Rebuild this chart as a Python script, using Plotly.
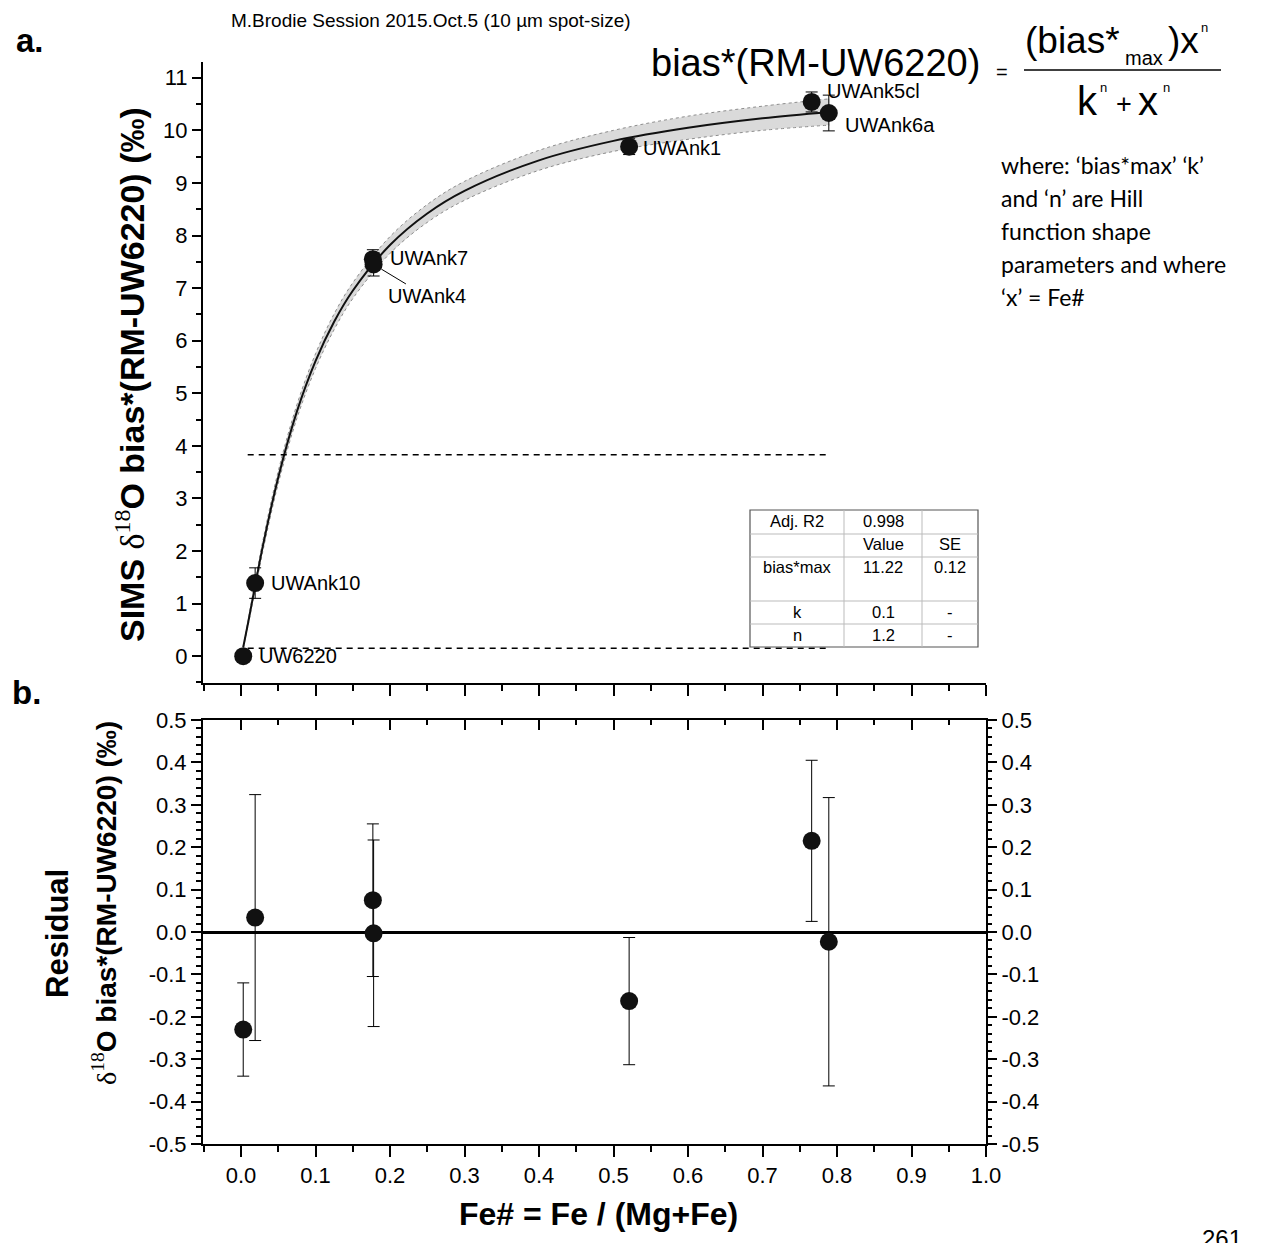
import plotly.graph_objects as go

# ---------------- data ----------------
names = ["UW6220", "UWAnk10", "UWAnk7", "UWAnk4", "UWAnk1", "UWAnk5cl", "UWAnk6a"]
fe_num = [0.003, 0.019, 0.177, 0.178, 0.521, 0.766, 0.789]
bias = [0.0, 1.39, 7.55, 7.45, 9.69, 10.54, 10.33]
bias_err = [0.11, 0.29, 0.18, 0.22, 0.15, 0.19, 0.34]
residual = [-0.23, 0.034, 0.075, -0.003, -0.163, 0.215, -0.023]
resid_err = [0.11, 0.29, 0.18, 0.22, 0.15, 0.19, 0.34]

curve_x = [0.003, 0.01, 0.02, 0.03, 0.05, 0.075, 0.1, 0.125, 0.15, 0.2, 0.25, 0.3, 0.4, 0.5, 0.6, 0.7, 0.79]
curve_y = [0.17, 0.67, 1.42, 2.14, 3.40, 4.65, 5.61, 6.36, 6.95, 7.82, 8.42, 8.85, 9.43, 9.80, 10.05, 10.23, 10.35]
band_upper = [0.19, 0.72, 1.50, 2.24, 3.52, 4.78, 5.75, 6.51, 7.10, 7.98, 8.59, 9.03, 9.62, 10.00, 10.27, 10.46, 10.60]
band_lower = [0.15, 0.62, 1.34, 2.04, 3.28, 4.52, 5.47, 6.21, 6.80, 7.66, 8.25, 8.67, 9.24, 9.60, 9.83, 10.00, 10.10]

hline_y = [3.83, 0.15]
hline_x = [0.009, 0.79]

x_ticks = [0.0, 0.1, 0.2, 0.3, 0.4, 0.5, 0.6, 0.7, 0.8, 0.9, 1.0]
x_ticklabels = ["0.0", "0.1", "0.2", "0.3", "0.4", "0.5", "0.6", "0.7", "0.8", "0.9", "1.0"]
top_y_ticks = [0, 1, 2, 3, 4, 5, 6, 7, 8, 9, 10, 11]
res_ticks = [-0.5, -0.4, -0.3, -0.2, -0.1, 0.0, 0.1, 0.2, 0.3, 0.4, 0.5]
res_ticklabels = ["-0.5", "-0.4", "-0.3", "-0.2", "-0.1", "0.0", "0.1", "0.2", "0.3", "0.4", "0.5"]

table_rows = [
    ["Adj. R2", "0.998", ""],
    ["", "Value", "SE"],
    ["bias*max", "11.22", "0.12"],
    ["k", "0.1", "-"],
    ["n", "1.2", "-"],
]

# ---------------- layout helpers ----------------
W, H = 1265, 1243
def px(x):
    return x / W
def py(y):
    return 1 - y / H

AR = "Arial, Liberation Sans, sans-serif"
fig = go.Figure()

# confidence band
fig.add_trace(go.Scatter(x=curve_x, y=band_lower, mode="lines", line=dict(color="#8c8c8c", width=1, dash="dot", shape="spline"),
                         xaxis="x", yaxis="y", showlegend=False, hoverinfo="skip"))
fig.add_trace(go.Scatter(x=curve_x, y=band_upper, mode="lines", line=dict(color="#8c8c8c", width=1, dash="dot", shape="spline"),
                         fill="tonexty", fillcolor="#dadada", xaxis="x", yaxis="y", showlegend=False, hoverinfo="skip"))
# fit curve
fig.add_trace(go.Scatter(x=curve_x, y=curve_y, mode="lines", line=dict(color="#111", width=2, shape="spline"),
                         xaxis="x", yaxis="y", showlegend=False))
# dashed horizontal lines
for hy in hline_y:
    fig.add_trace(go.Scatter(x=hline_x, y=[hy, hy], mode="lines", line=dict(color="black", width=1.6, dash="6px,5px"),
                             xaxis="x", yaxis="y", showlegend=False))
# data points
fig.add_trace(go.Scatter(x=fe_num, y=bias, mode="markers",
                         marker=dict(size=18, color="#111"),
                         error_y=dict(type="data", array=bias_err, color="black", thickness=1, width=6),
                         xaxis="x", yaxis="y", showlegend=False))
# residuals
fig.add_trace(go.Scatter(x=fe_num, y=residual, mode="markers",
                         marker=dict(size=18, color="#111"),
                         error_y=dict(type="data", array=resid_err, color="black", thickness=1, width=6),
                         xaxis="x2", yaxis="y2", showlegend=False))

# point labels
LBL = 20
label_shift = {"UW6220": (14, 0), "UWAnk10": (14, 0), "UWAnk7": (15, 1), "UWAnk1": (12, -1),
               "UWAnk5cl": (13, 11), "UWAnk6a": (14, -12)}
annotations = []
for n, xv, yv in zip(names, fe_num, bias):
    if n == "UWAnk4":
        annotations.append(dict(x=xv, y=yv, xref="x", yref="y", text=n, showarrow=True, arrowhead=0,
                                arrowwidth=1, arrowcolor="black", ax=53, ay=32, standoff=9,
                                xanchor="center", yanchor="middle",
                                font=dict(family=AR, size=LBL, color="black")))
        continue
    dx, dy = label_shift[n]
    annotations.append(dict(x=xv, y=yv, xref="x", yref="y", text=n, showarrow=False, xanchor="left",
                            yanchor="middle", xshift=dx, yshift=dy, font=dict(family=AR, size=LBL, color="black")))


def note(x, y, text, size, family=AR, angle=0, xanchor="center"):
    return dict(x=px(x), y=py(y), xref="paper", yref="paper", text=text, showarrow=False,
                xanchor=xanchor, yanchor="middle", textangle=angle,
                font=dict(family=family, size=size, color="black"))

SERIF_D = "<span style='font-family:Liberation Serif'>δ<sup>18</sup></span>"
annotations += [
    note(431, 20, "M.Brodie Session 2015.Oct.5 (10 µm spot-size)", 19),
    note(30, 40, "<b>a.</b>", 33),
    note(26, 692, "<b>b.</b>", 33),
    note(130, 375, "<b>SIMS </b>" + SERIF_D + "<b>O bias*(RM-UW6220) (‰)</b>", 34, angle=-90),
    note(58, 934, "<b>Residual</b>", 31, angle=-90),
    note(104, 903, SERIF_D + "<b>O bias*(RM-UW6220) (‰)</b>", 28, angle=-90),
    note(598, 1214, "<b>Fe# = Fe / (Mg+Fe)</b>", 32),
    # equation
    note(815, 63, "bias*(RM-UW6220)", 38),
    note(1002, 72, "=", 20),
    # numerator
    note(1122, 40, "(bias*", 37, xanchor="right"),
    note(1123, 58, "max", 20, xanchor="left"),
    note(1166, 40, ")x", 37, xanchor="left"),
    note(1199, 27, "n", 13, xanchor="left"),
    # denominator
    note(1087, 101, "k", 40),
    note(1098, 87, "n", 13, xanchor="left"),
    note(1124, 104, "+", 27),
    note(1148, 101, "x", 40),
    note(1161, 87, "n", 13, xanchor="left"),
    note(1222, 1238, "261", 24),
]
where_lines = ["where: ‘bias*max’ ‘k’", "and ‘n’ are Hill", "function shape", "parameters and where", "‘x’ = Fe#"]
for i, t in enumerate(where_lines):
    annotations.append(note(999, 165 + 33 * i, t, 23, family="Lato, Open Sans, sans-serif", xanchor="left"))

# table
tx = [750, 844, 922, 978]
ty = [510, 534, 557, 601, 624, 647]
shapes = [dict(type="rect", xref="paper", yref="paper", x0=px(tx[0]), x1=px(tx[-1]), y0=py(ty[-1]), y1=py(ty[0]),
               fillcolor="white", line=dict(color="#555", width=1.2), layer="above")]
for xx in tx[1:-1]:
    shapes.append(dict(type="line", xref="paper", yref="paper", x0=px(xx), x1=px(xx), y0=py(ty[-1]), y1=py(ty[0]),
                       line=dict(color="#bbb", width=1), layer="above"))
for yy in ty[1:-1]:
    shapes.append(dict(type="line", xref="paper", yref="paper", x0=px(tx[0]), x1=px(tx[-1]), y0=py(yy), y1=py(yy),
                       line=dict(color="#bbb", width=1), layer="above"))
row_text_y = [521, 544, 567, 612, 635]
col_cx = [(tx[0] + tx[1]) / 2, (tx[1] + tx[2]) / 2, (tx[2] + tx[3]) / 2]
for r, row in enumerate(table_rows):
    for c, cell in enumerate(row):
        if cell:
            annotations.append(note(col_cx[c], row_text_y[r], cell, 16.5))

# fraction bar
shapes.append(dict(type="line", xref="paper", yref="paper", x0=px(1024), x1=px(1221), y0=py(70), y1=py(70),
                   line=dict(color="black", width=1.5)))

xdom = [px(203), px(986)]
xrange_ = [-0.051, 1.0]
tickfont = dict(family=AR, size=22, color="black")

fig.update_layout(
    width=W, height=H, margin=dict(l=0, r=0, t=0, b=0, autoexpand=False),
    paper_bgcolor="white", plot_bgcolor="rgba(0,0,0,0)",
    showlegend=False,
    xaxis=dict(domain=xdom, range=xrange_, anchor="y", showgrid=False, zeroline=False,
               showline=True, linecolor="black", linewidth=2,
               ticks="outside", tickvals=x_ticks, ticklen=11, tickwidth=2, tickcolor="black",
               showticklabels=False,
               minor=dict(ticks="outside", dtick=0.05, tick0=0, ticklen=6, tickwidth=2, tickcolor="black")),
    yaxis=dict(domain=[py(683), py(62)], range=[-0.51, 11.3], anchor="x", showgrid=False, zeroline=False,
               showline=True, linecolor="black", linewidth=2,
               ticks="outside", tickvals=top_y_ticks, ticklen=9, tickwidth=2, tickcolor="black",
               tickfont=tickfont,
               minor=dict(ticks="outside", dtick=0.5, tick0=0, ticklen=5, tickwidth=2, tickcolor="black")),
    xaxis2=dict(domain=xdom, range=xrange_, anchor="y2", showgrid=False, zeroline=False,
                showline=True, linecolor="black", linewidth=2, mirror=True,
                ticks="outside", tickvals=x_ticks, ticktext=x_ticklabels, ticklen=11, tickwidth=2, tickcolor="black",
                tickfont=dict(family=AR, size=22, color="black"),
                minor=dict(ticks="outside", dtick=0.05, tick0=0, ticklen=6, tickwidth=2, tickcolor="black")),
    xaxis3=dict(overlaying="x2", range=xrange_, anchor="y2", side="top", showgrid=False, zeroline=False,
                showline=False, ticks="inside", tickvals=x_ticks, ticklen=10, tickwidth=2, tickcolor="black",
                showticklabels=False,
                minor=dict(ticks="inside", dtick=0.05, tick0=0, ticklen=5, tickwidth=2, tickcolor="black")),
    yaxis2=dict(domain=[py(1144), py(720)], range=[-0.5, 0.5], anchor="x2", showgrid=False,
                zeroline=True, zerolinecolor="black", zerolinewidth=2.5,
                showline=True, linecolor="black", linewidth=2, mirror=True,
                ticks="outside", tickvals=res_ticks, ticktext=res_ticklabels, ticklen=10, tickwidth=2,
                tickcolor="black", tickfont=tickfont,
                minor=dict(ticks="outside", dtick=0.02, tick0=0, ticklen=5, tickwidth=2, tickcolor="black")),
    yaxis3=dict(overlaying="y2", range=[-0.5, 0.5], anchor="x2", side="right", showgrid=False, zeroline=False,
                showline=False, ticks="outside", tickvals=res_ticks, ticktext=res_ticklabels, ticklen=10,
                tickwidth=2, tickcolor="black", tickfont=tickfont,
                minor=dict(ticks="outside", dtick=0.02, tick0=0, ticklen=5, tickwidth=2, tickcolor="black")),
    annotations=annotations,
    shapes=shapes,
)
# dummy traces so the overlay axes are drawn
fig.add_trace(go.Scatter(x=[None], y=[None], xaxis="x3", yaxis="y2", showlegend=False))
fig.add_trace(go.Scatter(x=[None], y=[None], xaxis="x2", yaxis="y3", showlegend=False))

fig.write_html("out.html", config={"displayModeBar": False},
               post_script="document.body.style.margin='0';document.body.style.overflow='hidden';")
